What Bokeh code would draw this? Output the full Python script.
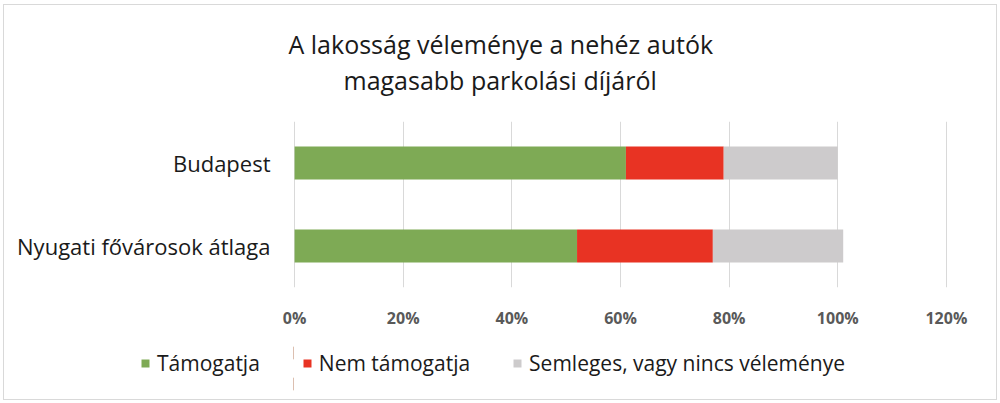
from bokeh.plotting import figure
from bokeh.layouts import column
from bokeh.models import (Legend, LegendItem, FactorRange, NumeralTickFormatter,
                          FixedTicker, Range1d, ColumnDataSource, Title)
from bokeh.embed import file_html
from bokeh.resources import INLINE

# ---- data ----
categories = ["Nyugati fővárosok átlaga", "Budapest"]   # bottom to top
support = [0.52, 0.61]
oppose = [0.25, 0.18]
neutral = [0.24, 0.21]
series_names = ["Támogatja", "Nem támogatja", "Semleges, vagy nincs véleménye"]
tick_values = [0.0, 0.2, 0.4, 0.6, 0.8, 1.0, 1.2]
title_lines = ["A lakosság véleménye a nehéz autók", "magasabb parkolási díjáról"]

colors = ["#7EAA55", "#E83323", "#CDCBCC"]
FONT = "Open Sans"
TXT = "#1a1a1a"

source = ColumnDataSource(dict(cat=categories, s=support, o=oppose, n=neutral))

# ---------------- main chart ----------------
p = figure(y_range=FactorRange(*categories), x_range=Range1d(-0.002, 1.202),
           frame_width=654, frame_height=166, output_backend="svg", toolbar_location=None,
           min_border_left=289, min_border_right=49, min_border_top=116,
           min_border_bottom=50)

rs = p.hbar_stack(["s", "o", "n"], y="cat", height=0.4, color=colors,
                  source=source, line_color=None)

# blank spacer between the title and the plot area (closest to the frame)
p.add_layout(Title(text=" ", standoff=1, text_font=FONT, text_font_size="16px"), "above")
p.add_layout(Title(text=title_lines[1], align="left", offset=50, standoff=0,
                   text_font=FONT, text_font_size="25px", text_font_style="normal",
                   text_color=TXT), "above")
p.title.text = title_lines[0]
p.title.align = "left"
p.title.offset = -5
p.title.standoff = 0
p.title.text_font = FONT
p.title.text_font_size = "25px"
p.title.text_font_style = "normal"
p.title.text_color = TXT

p.outline_line_color = None
p.ygrid.grid_line_color = None
p.xgrid.grid_line_color = "#D9D9D9"
p.xgrid.grid_line_width = 1

p.xaxis.ticker = FixedTicker(ticks=tick_values)
p.xaxis.formatter = NumeralTickFormatter(format="0%")
p.xaxis.axis_line_color = None
p.xaxis.major_tick_line_color = None
p.xaxis.minor_tick_line_color = None
p.xaxis.major_label_text_font = FONT
p.xaxis.major_label_text_font_size = "16px"
p.xaxis.major_label_text_font_style = "bold"
p.xaxis.major_label_text_color = "#595959"
p.xaxis.major_label_standoff = 13

p.yaxis.axis_line_color = None
p.yaxis.major_tick_line_color = None
p.yaxis.minor_tick_line_color = None
p.yaxis.major_label_text_font = FONT
p.yaxis.major_label_text_font_size = "22px"
p.yaxis.major_label_text_color = TXT
p.yaxis.major_label_standoff = 17

# ---------------- legend strip ----------------
lg = figure(y_range=FactorRange(*categories), x_range=Range1d(10, 11),
            frame_width=992, frame_height=62, output_backend="svg", toolbar_location=None,
            x_axis_location=None, y_axis_location=None, min_border=0)
lg.outline_line_color = None
lg.grid.visible = False
lrs = lg.hbar_stack(["s", "o", "n"], y="cat", height=0.4, color=colors,
                    source=source, line_color=None)

legend = Legend(items=[LegendItem(label=n, renderers=[r]) for n, r in zip(series_names, lrs)],
                orientation="horizontal", location=(136, 22),
                glyph_width=10, glyph_height=10, spacing=42,
                label_text_font=FONT, label_text_font_size="21px",
                label_text_color=TXT, border_line_color=None,
                background_fill_alpha=0, padding=0, margin=0, label_standoff=7)
lg.add_layout(legend, "center")

layout = column(p, lg)
layout.styles = {"border": "1px solid #D9D9D9", "margin-left": "3px", "margin-top": "4px"}

open("out.html", "w").write(file_html(layout, INLINE))
